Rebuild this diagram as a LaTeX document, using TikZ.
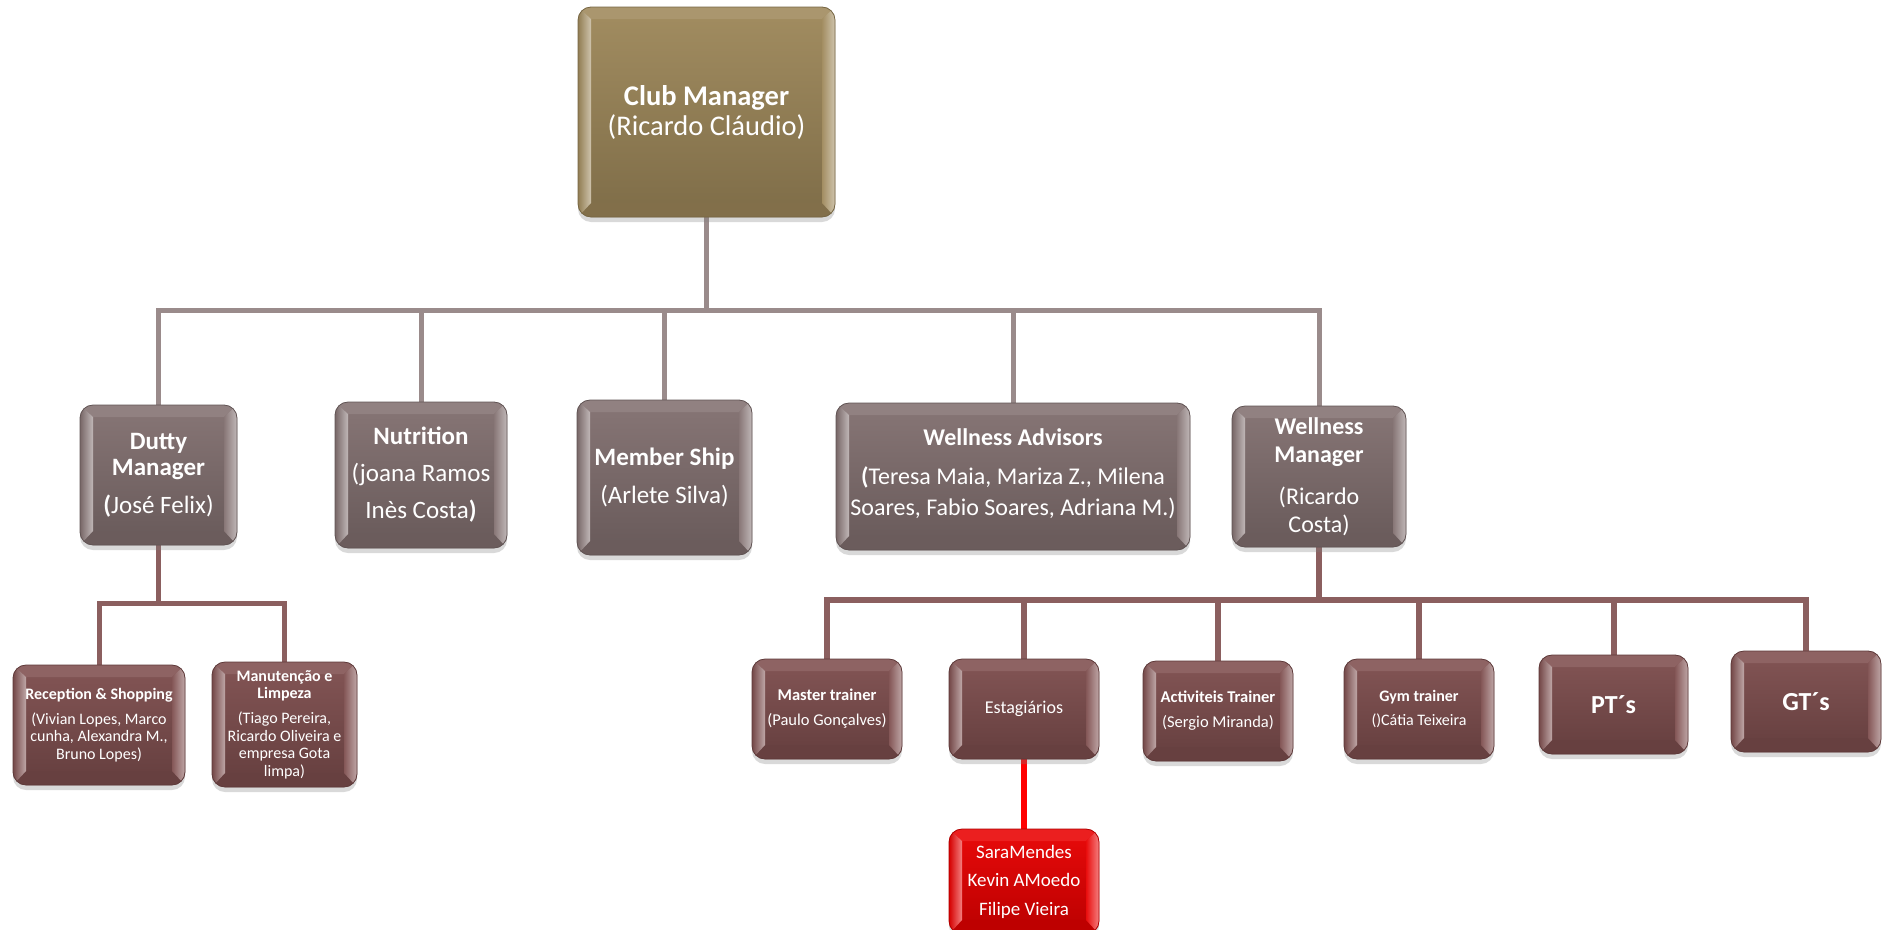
\documentclass[tikz,border=0pt]{standalone}
\usepackage{fontspec}
\setmainfont{Carlito}
\usetikzlibrary{shadows,backgrounds}
\definecolor{cmc}{RGB}{158,136,90}
\definecolor{ltwo}{RGB}{130,112,112}
\definecolor{lthree}{RGB}{126,78,78}
\definecolor{redc}{RGB}{232,0,0}
\definecolor{lineA}{RGB}{154,139,139}
\definecolor{lineB}{RGB}{139,95,95}
\tikzset{
  bevel/.style={path picture={
    \coordinate (bvsw) at (path picture bounding box.south west);
    \coordinate (bvne) at (path picture bounding box.north east);
    \coordinate (bvnw) at (bvsw |- bvne);
    \coordinate (bvse) at (bvne |- bvsw);
    \coordinate (bvisw) at ([xshift=13pt,yshift=14pt]bvsw);
    \coordinate (bvine) at ([xshift=-13pt,yshift=-12pt]bvne);
    \coordinate (bvinw) at (bvisw |- bvine);
    \coordinate (bvise) at (bvine |- bvisw);
    \fill[sharp corners,#1!88!white] (bvnw) -- (bvne) -- (bvine) -- (bvinw) -- cycle;
    \fill[sharp corners,#1!82!black] (bvsw) -- (bvse) -- (bvise) -- (bvisw) -- cycle;
    \shade[sharp corners,left color=#1!92!black,right color=#1!50!white] (bvsw) -- (bvnw) -- (bvinw) -- (bvisw) -- cycle;
    \shade[sharp corners,left color=#1!95!white,right color=#1!50!white] (bvse) -- (bvne) -- (bvine) -- (bvise) -- cycle;
  }},
  bx/.style={rectangle, rounded corners=13pt, draw=#1!75!black, line width=0.8pt,
    top color=#1!96!white, bottom color=#1!80!black, bevel=#1, text=white,
    align=center, inner sep=0pt,
    drop shadow={opacity=0.3,shadow xshift=0pt,shadow yshift=-5pt}},
  connA/.style={draw=lineA, line width=5pt},
  connB/.style={draw=lineB, line width=5pt},
  connC/.style={draw=lineB, line width=6pt},
  connR/.style={draw=red, line width=6pt},
  big/.style={font=\fontsize{25}{#1}\selectfont},
}
\begin{document}
\begin{tikzpicture}[x=1pt,y=-1pt]
\useasboundingbox (0,0) rectangle (1886,929);
% top
\node[bx=cmc, minimum width=257pt, minimum height=210pt, font=\fontsize{28.5}{30}\selectfont] (cm) at (706.5,112)
  {\textbf{Club Manager}\\(Ricardo Cláudio)};
% level 2
\node[bx=ltwo, minimum width=157pt, minimum height=140pt, big=26] (dm) at (158.5,475)
  {\textbf{Dutty}\\\textbf{Manager}\\[12pt]\textbf{(}José Felix)};
\node[bx=ltwo, minimum width=172pt, minimum height=146pt, big=37] (nu) at (421,475)
  {\textbf{Nutrition}\\(joana Ramos\\Inès Costa\textbf{)}};
\node[bx=ltwo, minimum width=175pt, minimum height=155pt, big=38] (ms) at (664.5,477.5)
  {\textbf{Member Ship}\\(Arlete Silva)};
\node[bx=ltwo, minimum width=354pt, minimum height=147pt, font=\fontsize{24}{31}\selectfont] (wa) at (1013,476.5)
  {\mbox{}\\[-19pt]\textbf{Wellness Advisors}\\[8pt]\textbf{(}Teresa Maia, Mariza Z., Milena\\Soares, Fabio Soares, Adriana M.)};
\node[bx=ltwo, minimum width=174pt, minimum height=141pt, font=\fontsize{24}{28}\selectfont] (wm) at (1319,476.5)
  {\textbf{Wellness}\\\textbf{Manager}\\[14pt](Ricardo\\Costa)};
% level 3 left
\node[bx=lthree, minimum width=172pt, minimum height=120pt, font=\fontsize{16}{17.5}\selectfont] (rs) at (99,725)
  {\textbf{Reception \& Shopping}\\[7.5pt](Vivian Lopes, Marco\\cunha, Alexandra M.,\\Bruno Lopes)};
\node[bx=lthree, minimum width=145pt, minimum height=125pt, font=\fontsize{16}{17.5}\selectfont] (mt) at (284.5,724.5)
  {\textbf{Manutenção e}\\\textbf{Limpeza}\\[7.5pt](Tiago Pereira,\\Ricardo Oliveira e\\empresa Gota\\limpa)};
% level 3 right
\node[bx=lthree, minimum width=150pt, minimum height=100pt, font=\fontsize{16.5}{25}\selectfont] (mtr) at (827,709)
  {\textbf{Master trainer}\\(Paulo Gonçalves)};
\node[bx=lthree, minimum width=150pt, minimum height=100pt, font=\fontsize{18}{22}\selectfont] (est) at (1024,709)
  {Estagiários};
\node[bx=lthree, minimum width=150pt, minimum height=100pt, font=\fontsize{16.5}{25}\selectfont] (act) at (1218,711)
  {\textbf{Activiteis Trainer}\\(Sergio Miranda)};
\node[bx=lthree, minimum width=150pt, minimum height=100pt, font=\fontsize{16}{24}\selectfont] (gym) at (1419,709)
  {\textbf{Gym trainer}\\()Cátia Teixeira};
\node[bx=lthree, minimum width=149pt, minimum height=99pt, font=\fontsize{26}{30}\selectfont] (pt) at (1613.5,704.5)
  {\textbf{PT´s}};
\node[bx=lthree, minimum width=150pt, minimum height=101pt, font=\fontsize{26}{30}\selectfont] (gt) at (1806,701.5)
  {\textbf{GT´s}};
\node[bx=redc, minimum width=150pt, minimum height=105pt, font=\fontsize{19}{28.5}\selectfont] (sara) at (1024,881.5)
  {SaraMendes\\Kevin AMoedo\\Filipe Vieira};
% connectors
\begin{scope}[on background layer]
  \coordinate (busA) at (0,310);
  \foreach \c in {dm,nu,ms,wa,wm}
    \draw[connA] (cm.south) |- (busA -| \c.north) -- (\c.north);
  \coordinate (busB) at (0,603);
  \foreach \c in {rs,mt}
    \draw[connB] (dm.south) |- (busB -| \c.north) -- (\c.north);
  \coordinate (busC) at (0,600);
  \foreach \c in {mtr,est,act,gym,pt,gt}
    \draw[connC] (wm.south) |- (busC -| \c.north) -- (\c.north);
  \draw[connR] (est.south) -- (sara.north);
\end{scope}
\end{tikzpicture}
\end{document}
